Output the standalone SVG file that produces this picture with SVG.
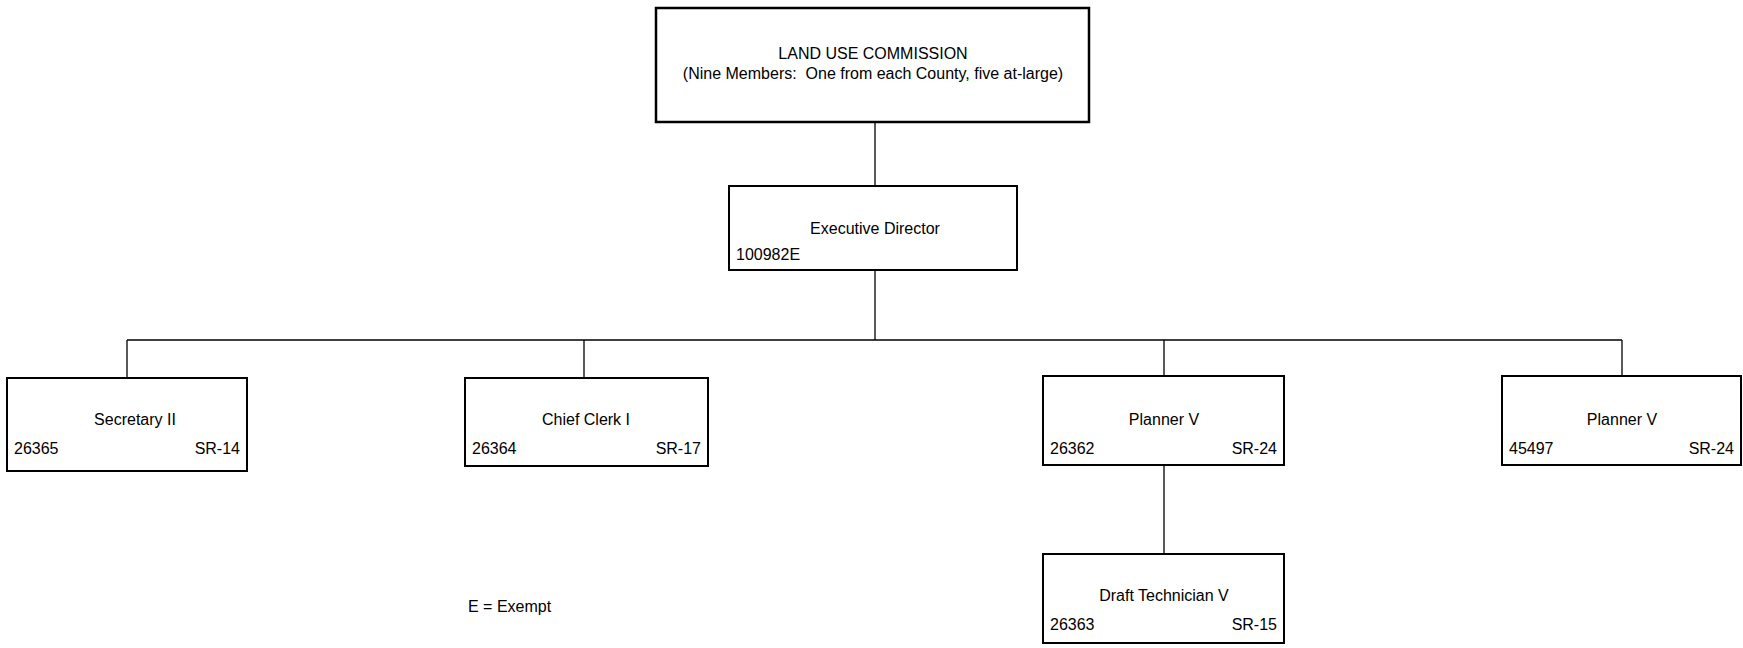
<svg xmlns="http://www.w3.org/2000/svg" width="1743" height="648" viewBox="0 0 1743 648">
<style>
.box{fill:#fff;stroke:#000;stroke-width:2}
.top{fill:#fff;stroke:#000;stroke-width:2.5}
.ln{stroke:#000;stroke-width:1.3;fill:none}
text{font-family:"Liberation Sans",Arial,sans-serif;font-size:16px;fill:#000}
.c{text-anchor:middle}
.r{text-anchor:end}
</style>
<rect width="1743" height="648" fill="#fff"/>
<g id="connectors">
<line class="ln" x1="875" y1="122" x2="875" y2="186"/>
<line class="ln" x1="875" y1="270" x2="875" y2="340"/>
<line class="ln" x1="127" y1="340" x2="1622" y2="340"/>
<line class="ln" x1="127" y1="340" x2="127" y2="378"/>
<line class="ln" x1="584" y1="340" x2="584" y2="378"/>
<line class="ln" x1="1164" y1="340" x2="1164" y2="376"/>
<line class="ln" x1="1622" y1="340" x2="1622" y2="376"/>
<line class="ln" x1="1164" y1="465" x2="1164" y2="554"/>
</g>
<g id="commission">
<rect class="top" x="656" y="8" width="433" height="114"/>
<text class="c" x="873" y="59">LAND USE COMMISSION</text>
<text class="c" x="873" y="79" xml:space="preserve">(Nine Members:  One from each County, five at-large)</text>
</g>
<g id="exec">
<rect class="box" x="729" y="186" width="288" height="84"/>
<text class="c" x="875" y="234">Executive Director</text>
<text x="736" y="260">100982E</text>
</g>
<g id="secretary">
<rect class="box" x="7" y="378" width="240" height="93"/>
<text class="c" x="135" y="425">Secretary II</text>
<text x="14" y="454">26365</text>
<text class="r" x="240" y="454">SR-14</text>
</g>
<g id="chiefclerk">
<rect class="box" x="465" y="378" width="243" height="88"/>
<text class="c" x="586" y="425">Chief Clerk I</text>
<text x="472" y="454">26364</text>
<text class="r" x="701" y="454">SR-17</text>
</g>
<g id="planner1">
<rect class="box" x="1043" y="376" width="241" height="89"/>
<text class="c" x="1164" y="425">Planner V</text>
<text x="1050" y="454">26362</text>
<text class="r" x="1277" y="454">SR-24</text>
</g>
<g id="planner2">
<rect class="box" x="1502" y="376" width="239" height="89"/>
<text class="c" x="1622" y="425">Planner V</text>
<text x="1509" y="454">45497</text>
<text class="r" x="1734" y="454">SR-24</text>
</g>
<g id="drafttech">
<rect class="box" x="1043" y="554" width="241" height="89"/>
<text class="c" x="1164" y="601">Draft Technician V</text>
<text x="1050" y="630">26363</text>
<text class="r" x="1277" y="630">SR-15</text>
</g>
<g id="legend">
<text x="468" y="612">E = Exempt</text>
</g>
</svg>
